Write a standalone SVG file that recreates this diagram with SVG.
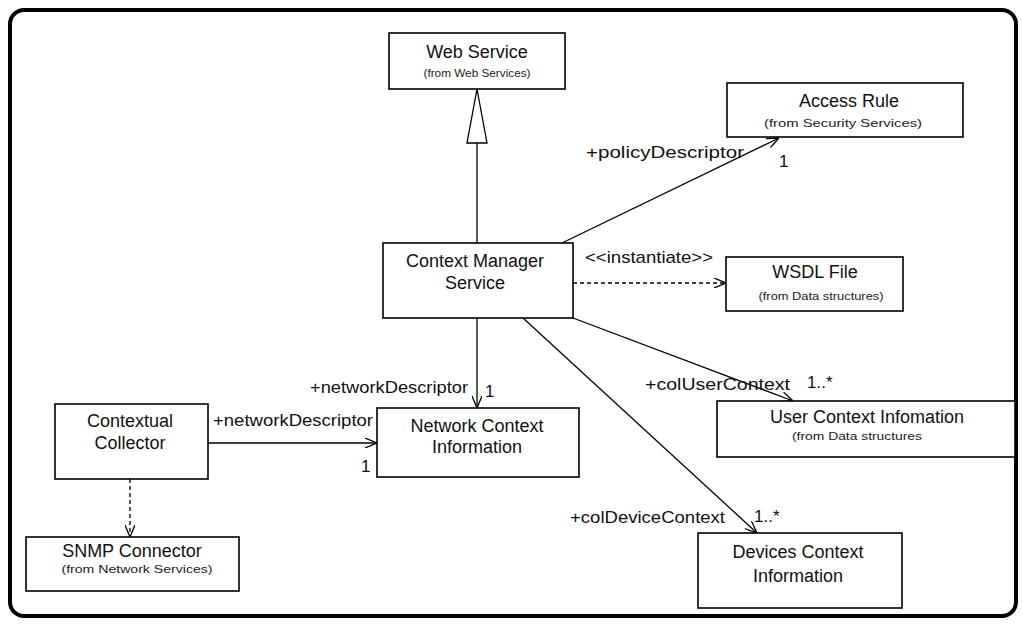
<svg xmlns="http://www.w3.org/2000/svg" width="1023" height="625" viewBox="0 0 1023 625">
<style>
.box{fill:#fff;stroke:#000;stroke-width:1.6}
.t{font-family:"Liberation Sans",Arial,sans-serif;font-size:18px;fill:#111;text-anchor:middle}
.s{font-family:"Liberation Sans",Arial,sans-serif;font-size:11px;fill:#222;text-anchor:middle}
.l{font-family:"Liberation Sans",Arial,sans-serif;font-size:17px;fill:#111}
.c{fill:none;stroke:#000;stroke-width:1.3}
.d{fill:none;stroke:#000;stroke-width:1.3;stroke-dasharray:4 3}
</style>
<defs>
<marker id="open" viewBox="0 0 12 10" refX="12" refY="5" markerWidth="12" markerHeight="10" markerUnits="userSpaceOnUse" orient="auto">
<path d="M0,0 L12,5 L0,10" fill="none" stroke="#000" stroke-width="1.3"/>
</marker>
</defs>
<rect x="0" y="0" width="1023" height="625" fill="#fff"/>
<rect x="10" y="10" width="1006" height="606" rx="14" fill="none" stroke="#000" stroke-width="4"/>
<g id="connectors">
<line class="c" x1="477" y1="143" x2="477" y2="243"/>
<polygon points="477,89 467,143 487,143" fill="#fff" stroke="#000" stroke-width="1.3"/>
<line class="c" x1="562" y1="243" x2="779" y2="138" marker-end="url(#open)"/>
<line class="d" x1="573" y1="283" x2="726" y2="283" marker-end="url(#open)"/>
<line class="c" x1="573" y1="318" x2="793" y2="401" marker-end="url(#open)"/>
<line class="c" x1="523" y1="318" x2="757" y2="533" marker-end="url(#open)"/>
<line class="c" x1="477" y1="318" x2="477" y2="408" marker-end="url(#open)"/>
<line class="c" x1="208" y1="443" x2="377" y2="443" marker-end="url(#open)"/>
<line class="d" x1="130" y1="479" x2="130" y2="537" marker-end="url(#open)"/>
<text class="l" x="586" y="158" textLength="158" lengthAdjust="spacingAndGlyphs">+policyDescriptor</text>
<text class="l" x="779" y="167">1</text>
<text class="l" x="585" y="263" textLength="128" lengthAdjust="spacingAndGlyphs">&lt;&lt;instantiate&gt;&gt;</text>
<text class="l" x="645" y="390" textLength="145" lengthAdjust="spacingAndGlyphs">+colUserContext</text>
<text class="l" x="807" y="388">1..*</text>
<text class="l" x="570" y="523" textLength="155" lengthAdjust="spacingAndGlyphs">+colDeviceContext</text>
<text class="l" x="754" y="522">1..*</text>
<text class="l" x="310" y="393" textLength="158" lengthAdjust="spacingAndGlyphs">+networkDescriptor</text>
<text class="l" x="485" y="397">1</text>
<text class="l" x="213" y="426" textLength="160" lengthAdjust="spacingAndGlyphs">+networkDescriptor</text>
<text class="l" x="361" y="472">1</text>
</g>
<g id="web-service">
<rect class="box" x="389" y="33" width="176" height="56"/>
<text class="t" x="477" y="58">Web Service</text>
<text class="s" x="477" y="77" textLength="107" lengthAdjust="spacingAndGlyphs">(from Web Services)</text>
</g>
<g id="context-manager-service">
<rect class="box" x="383" y="243" width="190" height="75"/>
<text class="t" x="475" y="267">Context Manager</text>
<text class="t" x="475" y="289">Service</text>
</g>
<g id="access-rule">
<rect class="box" x="727" y="83" width="236" height="54"/>
<text class="t" x="849" y="107">Access Rule</text>
<text class="s" x="843" y="127" textLength="158" lengthAdjust="spacingAndGlyphs">(from Security Services)</text>
</g>
<g id="wsdl-file">
<rect class="box" x="726" y="257" width="177" height="54"/>
<text class="t" x="815" y="278">WSDL File</text>
<text class="s" x="821" y="300" textLength="125" lengthAdjust="spacingAndGlyphs">(from Data structures)</text>
</g>
<g id="user-context-information">
<rect class="box" x="717" y="401" width="298" height="56"/>
<text class="t" x="867" y="423">User Context Infomation</text>
<text class="s" x="857" y="440" textLength="130" lengthAdjust="spacingAndGlyphs">(from Data structures</text>
</g>
<g id="devices-context-information">
<rect class="box" x="698" y="533" width="204" height="75"/>
<text class="t" x="798" y="558">Devices Context</text>
<text class="t" x="798" y="582">Information</text>
</g>
<g id="network-context-information">
<rect class="box" x="377" y="408" width="202" height="69"/>
<text class="t" x="477" y="432">Network Context</text>
<text class="t" x="477" y="453">Information</text>
</g>
<g id="contextual-collector">
<rect class="box" x="55" y="404" width="153" height="75"/>
<text class="t" x="130" y="427">Contextual</text>
<text class="t" x="130" y="449">Collector</text>
</g>
<g id="snmp-connector">
<rect class="box" x="26" y="537" width="213" height="54"/>
<text class="t" x="132" y="557">SNMP Connector</text>
<text class="s" x="137" y="573" textLength="151" lengthAdjust="spacingAndGlyphs">(from Network Services)</text>
</g>
</svg>
